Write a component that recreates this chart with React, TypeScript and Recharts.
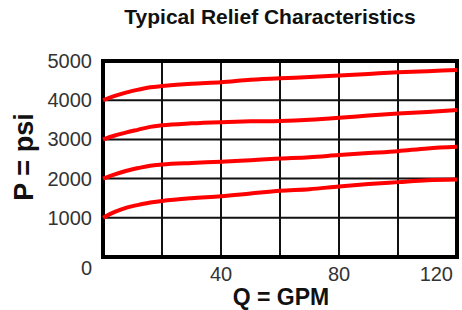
import React from 'react';
import { LineChart, Line, XAxis, YAxis, CartesianGrid, ReferenceArea } from 'recharts';

// flow in GPM and relief pressure in psi for four spring settings
const flow = [0, 4, 8, 12, 16, 20, 30, 40, 50, 60, 70, 80, 90, 100, 110, 120];
const setting1000 = [1000, 1150, 1260, 1330, 1390, 1430, 1500, 1550, 1620, 1690, 1730, 1800, 1860, 1910, 1960, 1980];
const setting2000 = [2000, 2110, 2200, 2270, 2330, 2360, 2400, 2430, 2470, 2510, 2545, 2600, 2650, 2700, 2770, 2810];
const setting3000 = [3000, 3100, 3180, 3250, 3320, 3360, 3410, 3440, 3460, 3470, 3500, 3550, 3610, 3660, 3700, 3750];
const setting4000 = [4000, 4110, 4200, 4270, 4330, 4360, 4420, 4460, 4520, 4560, 4590, 4630, 4670, 4710, 4740, 4770];

const xTicks = [0, 20, 40, 60, 80, 100, 120];
const xLabels = [40, 80, 120];
const yTicks = [0, 1000, 2000, 3000, 4000, 5000];

const data = flow.map((q, i) => ({
  q,
  s1: setting1000[i],
  s2: setting2000[i],
  s3: setting3000[i],
  s4: setting4000[i],
}));

const tickFont = { fontFamily: '"Liberation Sans", Arial, sans-serif', fontSize: 20, fill: '#333' };

const XTick = (props: any) => {
  const { x, y, payload } = props;
  if (!xLabels.includes(payload.value)) return <g />;
  const last = payload.value === 120;
  return (
    <text x={last ? x - 4 : x} y={y} dy={16} textAnchor={last ? 'end' : 'middle'} {...tickFont}>
      {payload.value}
    </text>
  );
};

const YTick = (props: any) => {
  const { x, y, payload } = props;
  const zero = payload.value === 0;
  return (
    <text x={x - 3} y={y} dy={zero ? 18 : 7} textAnchor="end" {...tickFont}>
      {payload.value}
    </text>
  );
};

const lines = ['s1', 's2', 's3', 's4'];

export default function App() {
  return (
    <div style={{ position: 'absolute', left: 0, top: 0, width: 462, height: 310, background: '#fff' }}>
      <LineChart width={462} height={310} data={data} margin={{ top: 61, right: 5, left: 0, bottom: 23 }}>
        <CartesianGrid stroke="#111" strokeWidth={2} />
        <XAxis
          dataKey="q"
          type="number"
          domain={[0, 120]}
          ticks={xTicks}
          interval={0}
          axisLine={false}
          tickLine={false}
          height={30}
          tick={<XTick />}
        />
        <YAxis
          type="number"
          domain={[0, 5000]}
          ticks={yTicks}
          interval={0}
          axisLine={false}
          tickLine={false}
          width={103}
          tick={<YTick />}
        />
        {lines.map((k) => (
          <Line
            key={k}
            dataKey={k}
            type="monotone"
            stroke="#ff0000"
            strokeWidth={4}
            dot={false}
            isAnimationActive={false}
          />
        ))}
        <ReferenceArea x1={0} x2={120} y1={0} y2={5000} fill="none" stroke="#000" strokeWidth={4} />
      </LineChart>
      <svg width={462} height={310} style={{ position: 'absolute', left: 0, top: 0, pointerEvents: 'none' }}>
        <text x={270} y={24} textAnchor="middle" fontFamily='"Liberation Sans", Arial, sans-serif' fontWeight="bold" fontSize={21} fill="#111">
          Typical Relief Characteristics
        </text>
        <text transform="translate(33,157) rotate(-90)" textAnchor="middle" fontFamily='"Liberation Sans", Arial, sans-serif' fontWeight="bold" fontSize={27} fill="#111">
          P = psi
        </text>
        <text x={281} y={305} textAnchor="middle" fontFamily='"Liberation Sans", Arial, sans-serif' fontWeight="bold" fontSize={23} fill="#111">
          Q = GPM
        </text>
      </svg>
    </div>
  );
}
